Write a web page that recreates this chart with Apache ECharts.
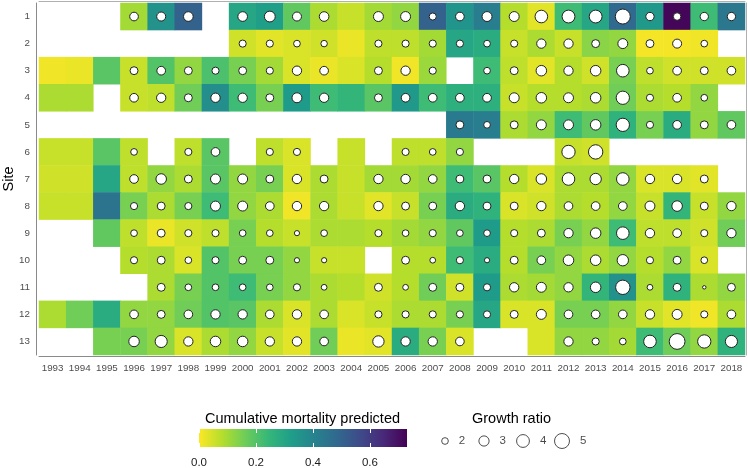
<!DOCTYPE html>
<html><head><meta charset="utf-8">
<script src="https://cdn.jsdelivr.net/npm/echarts@6/dist/echarts.min.js"></script>
<style>html,body{margin:0;padding:0;background:#fff}#c{width:748px;height:468px}</style>
</head><body><div id="c"></div>
<script>
const N = null;
const years = ['1993','1994','1995','1996','1997','1998','1999','2000','2001','2002','2003','2004','2005','2006','2007','2008','2009','2010','2011','2012','2013','2014','2015','2016','2017','2018'];
const sites = ['1','2','3','4','5','6','7','8','9','10','11','12','13'];
const colorbarTicks = [0.0, 0.2, 0.4, 0.6];
const growthLegend = ['2', '3', '4', '5'];

// Cumulative mortality predicted, per site (1993..2018)
const mort1  = [N,N,N,0.10,0.36,0.50,N,0.30,0.32,0.18,0.09,0.06,0.10,0.12,0.50,0.35,0.42,0.08,0.03,0.23,0.30,0.48,0.34,0.72,0.23,0.44];
const mort2  = [N,N,N,N,N,N,N,0.05,0.03,0.04,0.05,0.02,0.07,0.07,0.10,0.30,0.28,0.06,0.09,0.06,0.13,0.12,0.01,0.01,0.015,N];
const mort3  = [0.015,0.02,0.19,0.06,0.20,0.12,0.21,0.15,0.10,0.04,0.02,0.04,0.08,0.015,0.11,N,0.23,0.07,0.03,0.08,0.05,0.15,0.07,0.05,0.05,0.05];
const mort4  = [0.09,0.09,N,0.06,0.07,0.16,0.37,0.23,0.15,0.33,0.23,0.25,0.19,0.34,0.23,0.27,0.27,0.06,0.08,0.08,0.09,0.16,0.09,0.08,0.12,N];
const mort5  = [N,N,N,N,N,N,N,N,N,N,N,N,N,N,N,0.43,0.42,0.09,0.12,0.23,0.18,0.26,0.15,0.28,0.12,0.18];
const mort6  = [0.06,0.06,0.19,0.07,N,0.07,0.19,N,0.07,0.04,N,0.06,N,0.07,0.07,0.12,N,N,N,0.06,0.05,N,N,N,N,N];
const mort7  = [0.05,0.05,0.30,0.07,0.12,0.09,0.19,0.12,0.15,0.04,0.09,0.06,0.10,0.10,0.12,0.23,0.19,0.08,0.04,0.09,0.09,0.12,0.04,0.04,0.03,N];
const mort8  = [0.06,0.06,0.45,0.15,0.09,0.15,0.23,0.12,0.09,0.015,0.09,0.06,0.03,0.06,0.15,0.28,0.26,0.04,0.05,0.09,0.08,0.12,0.06,0.25,0.06,0.12];
const mort9  = [N,N,0.18,0.07,0.02,0.05,0.07,0.15,0.08,0.06,0.09,0.09,0.08,0.10,0.12,0.18,0.33,0.08,0.09,0.15,0.12,0.23,0.07,0.07,0.05,0.16];
const mort10 = [N,N,N,0.08,0.09,0.04,0.20,0.15,0.15,0.12,0.06,0.06,N,0.08,0.08,0.23,0.28,0.08,0.15,0.12,0.09,0.12,0.08,0.12,0.04,N];
const mort11 = [N,N,N,N,0.09,0.15,0.20,0.23,0.15,0.12,0.09,0.08,0.05,0.08,0.16,0.05,0.33,0.09,0.10,0.12,0.25,0.36,0.09,0.26,0.09,0.12];
const mort12 = [0.09,0.16,0.28,0.12,0.12,0.16,0.20,0.19,0.09,0.04,0.09,0.04,0.06,0.09,0.09,0.15,0.30,0.04,0.04,0.15,0.15,0.12,0.06,0.03,0.015,0.09];
const mort13 = [N,N,0.15,0.15,0.12,0.04,0.09,0.12,0.06,0.03,0.16,0.02,0.03,0.28,0.15,0.04,N,N,0.04,0.12,0.12,0.10,0.23,0.16,0.12,0.26];

// Growth ratio, per site (1993..2018)
const grow1  = [N,N,N,2.5,2.6,2.8,N,2.8,3.2,2.6,2.8,N,2.9,2.9,2.1,2.5,2.9,2.9,3.9,4.0,4.0,5.0,2.4,2.2,2.4,2.4];
const grow2  = [N,N,N,N,N,N,N,2.1,2.1,2.0,1.95,N,2.1,2.1,2.1,2.1,2.0,2.1,2.7,2.7,2.3,2.9,2.3,2.6,2.0,N];
const grow3  = [N,N,N,2.3,2.5,2.3,2.1,2.3,2.1,2.7,2.5,N,2.3,2.7,2.1,N,2.0,2.3,3.1,2.7,3.1,3.9,2.0,2.5,2.3,2.5];
const grow4  = [N,N,N,2.5,2.7,2.3,2.7,2.7,2.3,2.9,2.7,N,2.3,2.5,2.5,2.5,2.5,2.9,3.1,2.9,3.1,4.2,2.1,2.5,2.0,N];
const grow5  = [N,N,N,N,N,N,N,N,N,N,N,N,N,N,N,2.3,2.0,2.3,2.9,2.9,3.1,4.2,2.1,2.5,2.3,2.5];
const grow6  = [N,N,N,2.0,N,2.1,2.5,N,2.1,2.1,N,N,N,2.1,2.0,2.1,N,N,N,4.2,4.7,N,N,N,N,N];
const grow7  = [N,N,N,2.5,3.1,2.3,2.9,2.9,2.3,2.7,2.3,N,2.7,2.7,2.5,2.3,2.3,2.7,3.1,3.9,3.4,3.9,2.7,2.7,2.3,N];
const grow8  = [N,N,N,2.1,2.3,2.1,2.9,2.9,2.5,2.7,2.7,N,2.7,2.3,2.3,2.7,2.3,2.3,2.7,2.5,2.5,2.5,2.9,3.1,2.3,2.7];
const grow9  = [N,N,N,2.0,2.3,2.1,2.1,2.0,2.0,1.7,2.0,N,2.1,2.0,2.1,2.0,2.0,2.1,2.3,2.7,3.1,3.9,2.7,2.5,2.1,2.7];
const grow10 = [N,N,N,2.1,2.3,2.0,2.1,2.3,2.3,1.7,1.7,N,N,2.3,1.8,2.1,1.7,2.3,2.5,3.1,3.1,3.4,2.1,2.3,2.0,N];
const grow11 = [N,N,N,N,2.3,2.0,2.0,2.0,2.0,2.1,1.8,N,2.3,1.8,2.3,2.3,2.1,2.7,2.9,2.7,3.1,4.7,1.8,2.3,1.45,2.3];
const grow12 = [N,N,N,2.5,2.3,2.5,2.7,2.7,2.5,2.7,2.5,N,2.1,2.1,2.1,2.1,2.1,2.3,2.9,2.5,2.5,2.5,2.7,2.9,2.1,2.5];
const grow13 = [N,N,N,3.1,3.7,2.7,3.1,3.1,2.7,2.7,2.5,N,3.4,2.7,2.7,2.5,N,N,N,2.7,2.1,2.0,3.9,5.4,4.2,3.7];

const mortRows = [mort1,mort2,mort3,mort4,mort5,mort6,mort7,mort8,mort9,mort10,mort11,mort12,mort13];
const growRows = [grow1,grow2,grow3,grow4,grow5,grow6,grow7,grow8,grow9,grow10,grow11,grow12,grow13];

const viridisRev = ['#FDE725','#B4DE2C','#6DCD59','#35B779','#1F9E89','#26828E','#31688E','#3E4A89','#482878','#440154'];
const MORT_MAX = 0.73;

const heatData = [], circleData = [];
mortRows.forEach((row, s) => row.forEach((v, y) => { if (v !== null) heatData.push([y, s, v]); }));
growRows.forEach((row, s) => row.forEach((v, y) => { if (v !== null) circleData.push([y, s, v]); }));

const sizeOf = g => Math.sqrt(60 * (g - 1.25));
const FONT = 'Liberation Sans, Arial, Helvetica, sans-serif';
const LINE = '#8a8a8a';
const isTick = v => colorbarTicks.some(t => Math.abs(t - v) < 1e-6);

const chart = echarts.init(document.getElementById('c'), null, {renderer: 'canvas'});
chart.setOption({
  animation: false,
  textStyle: {fontFamily: FONT},
  title: [
    {text: 'Cumulative mortality predicted', left: 205, top: 411, padding: 0,
     textStyle: {fontSize: 14.5, fontWeight: 'normal', color: '#000', fontFamily: FONT}},
    {text: 'Growth ratio', left: 472, top: 411, padding: 0,
     textStyle: {fontSize: 14.5, fontWeight: 'normal', color: '#000', fontFamily: FONT}}
  ],
  grid: [
    {left: 39, right: 3, top: 3, bottom: 113, containLabel: false, outerBoundsMode: 'none'},
    {left: 199, width: 208, top: 429, height: 18, containLabel: false, outerBoundsMode: 'none'},
    {left: 425.5, width: 156, top: 431, height: 20, containLabel: false, outerBoundsMode: 'none'}
  ],
  xAxis: [
    {type: 'category', gridIndex: 0, data: years, offset: 1,
     axisLine: {lineStyle: {color: LINE, width: 1}},
     axisTick: {alignWithLabel: true, length: 4, lineStyle: {color: '#555'}},
     axisLabel: {interval: 0, fontSize: 9.8, color: '#4D4D4D', margin: 7, fontFamily: FONT},
     splitLine: {show: false}},
    {type: 'category', gridIndex: 0, data: years, position: 'top', offset: 2,
     axisLine: {lineStyle: {color: '#b0b0b0', width: 1}}, axisTick: {show: false}, axisLabel: {show: false}},
    {type: 'value', gridIndex: 1, min: 0, max: MORT_MAX, interval: 0.2, z: 10,
     axisLine: {show: false}, splitLine: {show: false},
     axisTick: {inside: true, length: 4, lineStyle: {color: '#fff', width: 1}},
     axisLabel: {fontSize: 11.5, color: '#1a1a1a', margin: 10, fontFamily: FONT,
                 formatter: v => isTick(v) ? v.toFixed(1) : ''}},
    {type: 'value', gridIndex: 1, min: 0, max: MORT_MAX, interval: 0.2, z: 10, position: 'top',
     axisLine: {show: false}, splitLine: {show: false}, axisLabel: {show: false},
     axisTick: {inside: true, length: 4, lineStyle: {color: '#fff', width: 1}}},
    {type: 'category', gridIndex: 2, data: growthLegend, show: false}
  ],
  yAxis: [
    {type: 'category', gridIndex: 0, data: sites, inverse: true, offset: 3,
     name: 'Site', nameLocation: 'middle', nameGap: 20, nameMoveOverlap: false,
     nameTextStyle: {fontSize: 14.5, color: '#000', fontFamily: FONT},
     axisLine: {lineStyle: {color: LINE, width: 1}},
     axisTick: {alignWithLabel: true, length: 4, lineStyle: {color: '#555'}},
     axisLabel: {fontSize: 9.8, color: '#4D4D4D', margin: 6, fontFamily: FONT},
     splitLine: {show: false}},
    {type: 'category', gridIndex: 0, data: sites, inverse: true, position: 'right', offset: 1,
     axisLine: {lineStyle: {color: '#b0b0b0', width: 1}}, axisTick: {show: false}, axisLabel: {show: false}},
    {type: 'value', gridIndex: 1, min: 0, max: 1, show: false},
    {type: 'value', gridIndex: 2, min: 0, max: 1, show: false}
  ],
  visualMap: {
    show: false, type: 'continuous', seriesIndex: 0, dimension: 2,
    min: 0, max: MORT_MAX, inRange: {color: viridisRev}
  },
  series: [
    {type: 'heatmap', xAxisIndex: 0, yAxisIndex: 0, data: heatData,
     itemStyle: {borderWidth: 0}, emphasis: {disabled: true}, progressive: 0},
    {type: 'scatter', xAxisIndex: 0, yAxisIndex: 0, data: circleData, z: 5,
     symbol: 'circle', symbolSize: v => sizeOf(v[2]),
     itemStyle: {color: '#fff', borderColor: '#222', borderWidth: 1, opacity: 1},
     emphasis: {disabled: true}},
    {type: 'custom', xAxisIndex: 2, yAxisIndex: 2, data: [[0, MORT_MAX]], z: 2,
     renderItem: (params, api) => {
       const p0 = api.coord([api.value(0), 0]);
       const p1 = api.coord([api.value(1), 1]);
       const stops = viridisRev.map((c, i) => ({offset: i / (viridisRev.length - 1), color: c}));
       return {type: 'rect',
         shape: {x: p0[0], y: p1[1], width: p1[0] - p0[0], height: p0[1] - p1[1]},
         style: {fill: new echarts.graphic.LinearGradient(0, 0, 1, 0, stops)}};
     }},
    {type: 'scatter', xAxisIndex: 4, yAxisIndex: 3,
     data: growthLegend.map(g => [g, 0.5]),
     symbol: 'circle', symbolSize: v => sizeOf(Number(v[0])),
     itemStyle: {color: '#fff', borderColor: '#222', borderWidth: 1},
     label: {show: true, position: 'right', distance: 10, formatter: p => String(p.value[0]),
             fontSize: 11.5, color: '#1a1a1a', fontFamily: FONT},
     emphasis: {disabled: true}}
  ]
});
</script></body></html>
